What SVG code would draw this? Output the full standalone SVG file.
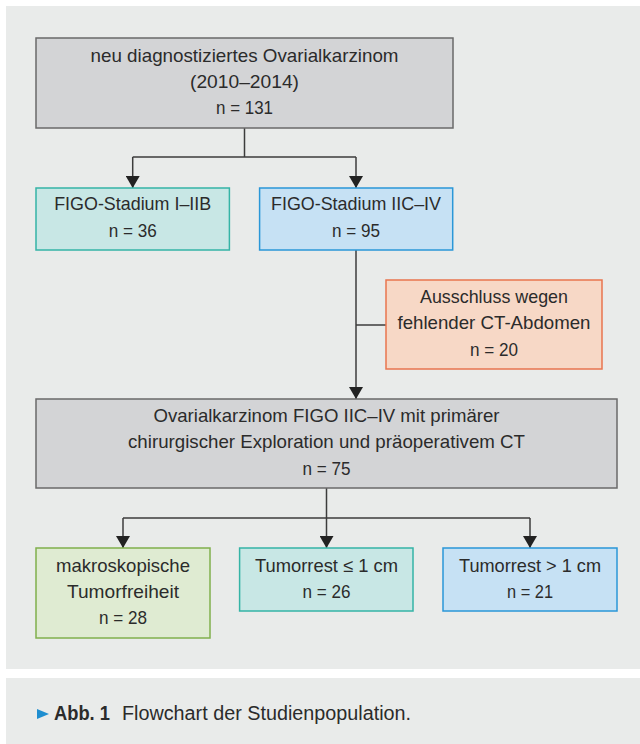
<svg xmlns="http://www.w3.org/2000/svg" width="640" height="744" viewBox="0 0 640 744">
<style>
.t{font-family:"Liberation Sans",Arial,sans-serif;font-size:18.5px;fill:#2b2b2b;text-anchor:middle}
.gray{fill:#d3d4d6;stroke:#6a6a6a;stroke-width:1.5}
.teal{fill:#c8e7e5;stroke:#35b4a6;stroke-width:1.5}
.blue{fill:#c6e1f4;stroke:#2a97d8;stroke-width:1.5}
.orange{fill:#f7d8c6;stroke:#e9754f;stroke-width:1.5}
.green{fill:#dfebd2;stroke:#80b04c;stroke-width:1.5}
.c{fill:none;stroke:#3c3c3c;stroke-width:1.5}
.a{marker-end:url(#arr)}
.cap{font-family:"Liberation Sans",Arial,sans-serif;font-size:19.5px;fill:#2b2b2b}
</style>
<defs>
<marker id="arr" viewBox="0 0 12 14" refX="12" refY="7" markerWidth="12" markerHeight="14" markerUnits="userSpaceOnUse" orient="auto">
<path d="M0,0 L12,7 L0,14 z" fill="#222"/>
</marker>
</defs>
<rect x="0" y="0" width="640" height="744" fill="#ffffff"/>
<rect x="6" y="6" width="634" height="663" fill="#e9ebea"/>
<rect x="6" y="678" width="634" height="66" fill="#e9ebea"/>

<g id="connectors">
<path class="c" d="M244.5,128 V157 M132.7,157 H356"/>
<path class="c a" d="M132.7,157 V188"/>
<path class="c a" d="M356,157 V188"/>
<path class="c a" d="M356,250 V399"/>
<path class="c" d="M356,325 H386"/>
<path class="c" d="M326.5,488 V518 M123,518 H530"/>
<path class="c a" d="M123,518 V548"/>
<path class="c a" d="M326.5,518 V548"/>
<path class="c a" d="M530,518 V548"/>
</g>

<g id="n_total">
<rect class="gray" x="36" y="38" width="417" height="90"/>
<text class="t" x="244.5" y="62" textLength="308" lengthAdjust="spacingAndGlyphs">neu diagnostiziertes Ovarialkarzinom</text>
<text class="t" x="244.5" y="88" textLength="109" lengthAdjust="spacingAndGlyphs">(2010–2014)</text>
<text class="t" x="244.5" y="114" textLength="57" lengthAdjust="spacingAndGlyphs">n = 131</text>
</g>

<g id="n_figo_early">
<rect class="teal" x="36" y="188" width="193.4" height="62"/>
<text class="t" x="132.7" y="210" textLength="157" lengthAdjust="spacingAndGlyphs">FIGO-Stadium I–IIB</text>
<text class="t" x="132.7" y="237" textLength="48" lengthAdjust="spacingAndGlyphs">n = 36</text>
</g>

<g id="n_figo_late">
<rect class="blue" x="259.6" y="188" width="193.1" height="62"/>
<text class="t" x="356" y="210" textLength="170" lengthAdjust="spacingAndGlyphs">FIGO-Stadium IIC–IV</text>
<text class="t" x="356" y="237" textLength="48" lengthAdjust="spacingAndGlyphs">n = 95</text>
</g>

<g id="n_excluded">
<rect class="orange" x="386" y="280" width="216" height="89"/>
<text class="t" x="494" y="303" textLength="148" lengthAdjust="spacingAndGlyphs">Ausschluss wegen</text>
<text class="t" x="494" y="329" textLength="193" lengthAdjust="spacingAndGlyphs">fehlender CT-Abdomen</text>
<text class="t" x="494" y="356" textLength="48" lengthAdjust="spacingAndGlyphs">n = 20</text>
</g>

<g id="n_cohort">
<rect class="gray" x="36" y="399" width="581" height="89"/>
<text class="t" x="326.5" y="422" textLength="346" lengthAdjust="spacingAndGlyphs">Ovarialkarzinom FIGO IIC–IV mit primärer</text>
<text class="t" x="326.5" y="448" textLength="397" lengthAdjust="spacingAndGlyphs">chirurgischer Exploration und präoperativem CT</text>
<text class="t" x="326.5" y="475" textLength="48" lengthAdjust="spacingAndGlyphs">n = 75</text>
</g>

<g id="n_r0">
<rect class="green" x="36" y="548" width="174" height="90"/>
<text class="t" x="123" y="572" textLength="134" lengthAdjust="spacingAndGlyphs">makroskopische</text>
<text class="t" x="123" y="598" textLength="112" lengthAdjust="spacingAndGlyphs">Tumorfreiheit</text>
<text class="t" x="123" y="624" textLength="48" lengthAdjust="spacingAndGlyphs">n = 28</text>
</g>

<g id="n_r1">
<rect class="teal" x="239.6" y="548" width="173.4" height="63"/>
<text class="t" x="326.5" y="572" textLength="143" lengthAdjust="spacingAndGlyphs">Tumorrest ≤ 1 cm</text>
<text class="t" x="326.5" y="598" textLength="48" lengthAdjust="spacingAndGlyphs">n = 26</text>
</g>

<g id="n_r2">
<rect class="blue" x="443" y="548" width="174" height="63"/>
<text class="t" x="530" y="572" textLength="142" lengthAdjust="spacingAndGlyphs">Tumorrest &gt; 1 cm</text>
<text class="t" x="530" y="598" textLength="46" lengthAdjust="spacingAndGlyphs">n = 21</text>
</g>

<g id="caption">
<path d="M37,709 L49,714 L37,719 z" fill="#1f8ed0"/>
<text class="cap" x="54" y="720" font-weight="bold" textLength="56" lengthAdjust="spacingAndGlyphs">Abb. 1</text>
<text class="cap" x="122" y="720" textLength="289" lengthAdjust="spacingAndGlyphs">Flowchart der Studienpopulation.</text>
</g>
</svg>
